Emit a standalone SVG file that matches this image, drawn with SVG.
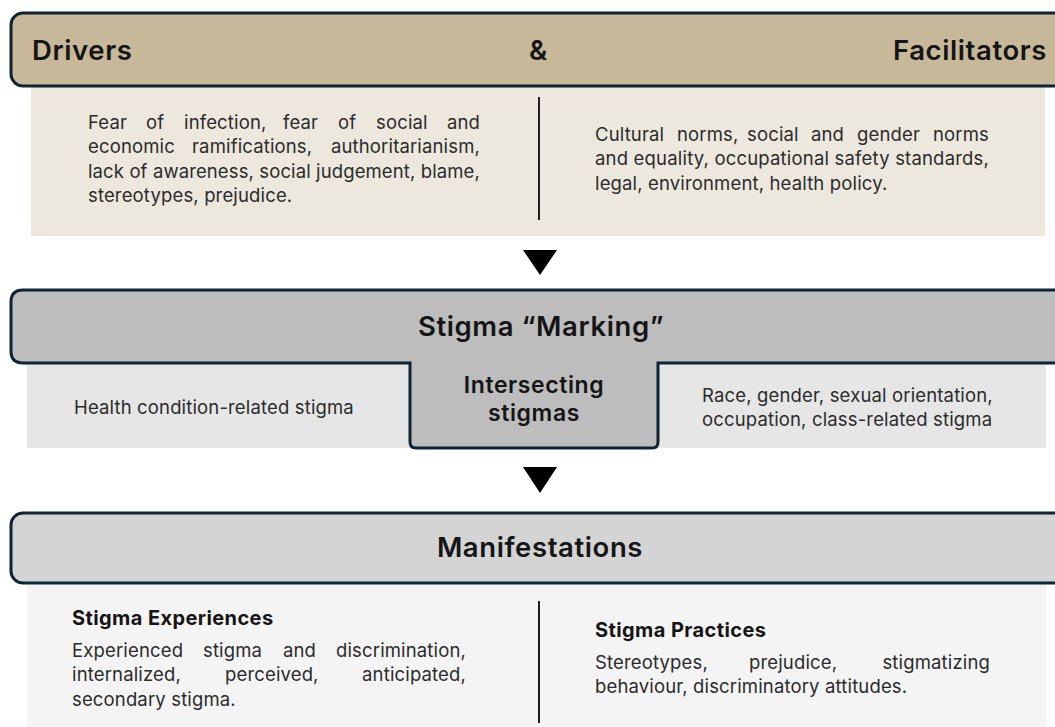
<svg xmlns="http://www.w3.org/2000/svg" width="1055" height="727" viewBox="0 0 1055 727">
  <style>
    .hdr { stroke: #0e2333; stroke-width: 3; }
    .title { font-family: Inter, "Open Sans", "Liberation Sans", sans-serif; font-weight: 600; fill: #151515; letter-spacing: 0.6px; }
    .body { font-family: Inter, "Open Sans", "Liberation Sans", sans-serif; font-size: 18.5px; letter-spacing: 0.15px; fill: #2b2b2b; }
    .sub { font-family: Inter, "Open Sans", "Liberation Sans", sans-serif; font-size: 20px; font-weight: 700; letter-spacing: 0.4px; fill: #151515; }
    .rule { stroke: #1e1e1e; stroke-width: 2; }
    .arrow { fill: #000; }
  </style>
  <rect width="1055" height="727" fill="#ffffff"/>

  <!-- Drivers & Facilitators -->
  <g id="drivers-facilitators">
    <rect x="31" y="86" width="1014" height="150" fill="#ede8dd"/>
    <rect class="hdr" x="11" y="13" width="1062" height="73" rx="12" fill="#c6b898"/>
    <text class="title" x="32" y="60" font-size="27.5">Drivers</text>
    <text class="title" x="529" y="60" font-size="27.5">&amp;</text>
    <text class="title" x="1047" y="60" font-size="27.5" text-anchor="end">Facilitators</text>
    <line class="rule" x1="539" y1="97" x2="539" y2="220"/>
    <g class="body">
      <text y="129"><tspan x="88">Fear</tspan><tspan x="146">of</tspan><tspan x="184">infection,</tspan><tspan x="283">fear</tspan><tspan x="338">of</tspan><tspan x="376">social</tspan><tspan x="480" text-anchor="end">and</tspan></text>
      <text y="153"><tspan x="88">economic</tspan><tspan x="192">ramifications,</tspan><tspan x="480" text-anchor="end">authoritarianism,</tspan></text>
      <text x="88" y="178" textLength="392" lengthAdjust="spacing">lack of awareness, social judgement, blame,</text>
      <text x="88" y="202">stereotypes, prejudice.</text>
      <text y="141"><tspan x="595">Cultural</tspan><tspan x="677">norms,</tspan><tspan x="747">social</tspan><tspan x="811">and</tspan><tspan x="857">gender</tspan><tspan x="989" text-anchor="end">norms</tspan></text>
      <text x="595" y="165" textLength="394" lengthAdjust="spacing">and equality, occupational safety standards,</text>
      <text x="595" y="190">legal, environment, health policy.</text>
    </g>
  </g>

  <!-- Stigma "Marking" -->
  <g id="stigma-marking">
    <rect x="27" y="363" width="384" height="85" fill="#e6e6e6"/>
    <rect x="657" y="363" width="389" height="85" fill="#e6e6e6"/>
    <path class="hdr" fill="#bdbdbd" d="M1073 290 H23 Q11 290 11 302 V351 Q11 363 23 363 H410 V442 Q410 448 416 448 H652 Q658 448 658 442 V363 H1073 Z"/>
    <text class="title" x="541" y="336" font-size="27.5" text-anchor="middle">Stigma “Marking”</text>
    <text class="title" x="534" y="393" font-size="23" text-anchor="middle" letter-spacing="0.8">Intersecting</text>
    <text class="title" x="534" y="421" font-size="23" text-anchor="middle" letter-spacing="0.8">stigmas</text>
    <text class="body" x="74" y="414">Health condition-related stigma</text>
    <text class="body" x="702" y="402">Race, gender, sexual orientation,</text>
    <text class="body" x="702" y="426">occupation, class-related stigma</text>
  </g>

  <!-- Manifestations -->
  <g id="manifestations">
    <rect x="27" y="583" width="1019" height="150" fill="#f4f4f4"/>
    <rect class="hdr" x="11" y="513" width="1062" height="70" rx="12" fill="#d4d4d4"/>
    <text class="title" x="540" y="557" font-size="27.5" text-anchor="middle">Manifestations</text>
    <line class="rule" x1="539" y1="601" x2="539" y2="723"/>
    <text class="sub" x="72" y="625">Stigma Experiences</text>
    <text class="sub" x="595" y="637">Stigma Practices</text>
    <g class="body">
      <text y="657"><tspan x="72">Experienced</tspan><tspan x="203">stigma</tspan><tspan x="283">and</tspan><tspan x="466" text-anchor="end">discrimination,</tspan></text>
      <text y="681"><tspan x="72">internalized,</tspan><tspan x="225">perceived,</tspan><tspan x="466" text-anchor="end">anticipated,</tspan></text>
      <text x="72" y="706">secondary stigma.</text>
      <text y="669"><tspan x="595">Stereotypes,</tspan><tspan x="749">prejudice,</tspan><tspan x="990" text-anchor="end">stigmatizing</tspan></text>
      <text x="595" y="693">behaviour, discriminatory attitudes.</text>
    </g>
  </g>

  <!-- Flow arrows between stages -->
  <g id="connectors">
    <polygon class="arrow" points="523,250 557,250 540,275"/>
    <polygon class="arrow" points="523,467 557,467 540,493"/>
  </g>
</svg>
